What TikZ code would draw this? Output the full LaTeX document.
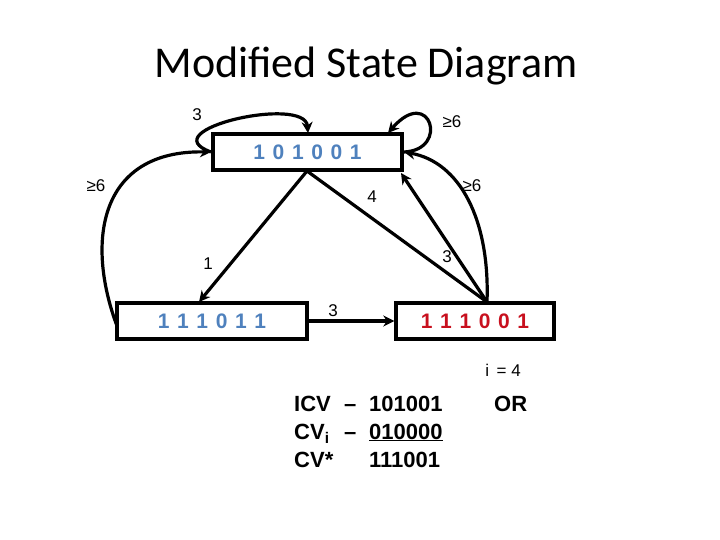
\documentclass[tikz,border=0pt]{standalone}
\usepackage{fontspec}
\setmainfont{Liberation Sans}
\newfontfamily\titlefont{Carlito}
\usetikzlibrary{arrows.meta}
\definecolor{stblue}{RGB}{79,129,189}
\definecolor{stred}{RGB}{200,16,30}
\newcommand\dgap{\hspace{7.6pt}}
\tikzset{
  statebox/.style={draw=black, line width=3.4pt, minimum height=36pt, inner sep=0pt, font=\bfseries\fontsize{21}{24}\selectfont},
  conn/.style={line width=3.2pt, -{Stealth[length=11pt,width=11pt,inset=3.5pt]}},
  plain/.style={line width=3.2pt},
  lbl/.style={font=\fontsize{17}{19}\selectfont, inner sep=0pt},
  cvtext/.style={font=\bfseries\fontsize{22}{24}\selectfont, anchor=base west, inner sep=0pt},
}
\begin{document}
\begin{tikzpicture}[x=1pt,y=-1pt]
\useasboundingbox (0,0) rectangle (720,540);
\node[font=\titlefont\fontsize{44}{48}\selectfont] (title) at (366,66) {Modified State Diagram};

\node[statebox, minimum width=189pt, text=stblue] (top) at (307.5,152) {1\dgap0\dgap1\dgap0\dgap0\dgap1};
\node[statebox, minimum width=190pt, text=stblue] (bl) at (212,321) {1\dgap1\dgap1\dgap0\dgap1\dgap1};
\node[statebox, minimum width=158pt, text=stred] (br) at (475,321) {1\dgap1\dgap1\dgap0\dgap0\dgap1};

\coordinate (topL) at (211,152);
\coordinate (topT) at (308,133);
\coordinate (topR) at (404,152);
\coordinate (topTR) at (388,133);
\coordinate (topB) at (307,171);
\coordinate (topBR) at (401,173);
\coordinate (brT) at (487,302);
\coordinate (blT) at (199,302);
\coordinate (blL) at (117,326);

% self loop 3
\draw[conn] (topL) .. controls (150,130) and (305,95) .. (topT);
% self loop >=6
\draw[conn] (topR) .. controls (450,150) and (430,85) .. (topTR);
% left arc >=6
\draw[conn] (blL) .. controls (85,240) and (100,150) .. (topL);
% top -> bl (1)
\draw[conn] (topB) -- (blT);
% top -> br (4)
\draw[plain] (topB) -- (brT);
% br -> top straight (3)
\draw[conn] (brT) -- (topBR);
% br -> top curved (>=6)
\draw[conn] (brT) .. controls (490,220) and (460,162) .. (topR);
% bl -> br (3)
\draw[conn] (bl.east) -- (br.west);

\node[lbl] (l3a) at (197,115) {3};
\node[lbl] (l6a) at (452,122) {≥6};
\node[lbl] (l6b) at (96,186) {≥6};
\node[lbl] (l4) at (372,197) {4};
\node[lbl] (l6c) at (472,186) {≥6};
\node[lbl] (l1) at (208,264) {1};
\node[lbl] (l3b) at (447,257) {3};
\node[lbl] (l3c) at (333,311) {3};
\node[lbl] (li) at (503,370) {i \,= 4};

\node[cvtext] (a1) at (294,411) {ICV};
\node[cvtext] (a2) at (344,411) {–};
\node[cvtext] (a3) at (369,411) {101001};
\node[cvtext] (b1) at (294,439) {CV\textsubscript{i}};
\node[cvtext] (b2) at (344,439) {–};
\node[cvtext] (b3) at (369,439) {\underline{010000}};
\node[cvtext] (c1) at (294,467) {CV*};
\node[cvtext] (c3) at (369,467) {111001};
\node[cvtext] (or) at (494,411) {OR};
\end{tikzpicture}
\end{document}
